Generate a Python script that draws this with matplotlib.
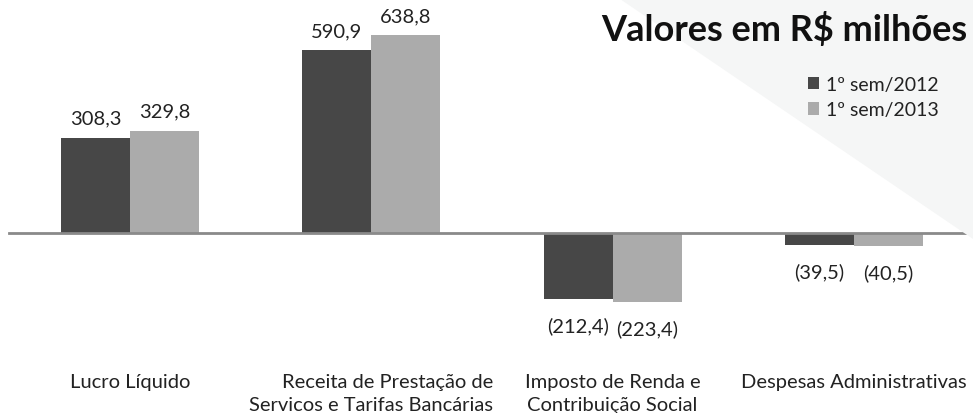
import matplotlib
matplotlib.use("Agg")
import matplotlib.pyplot as plt
from matplotlib.patches import Polygon
import numpy as np

categories = ["Lucro Líquido",
              "Receita de Prestação de\nServicos e Tarifas Bancárias",
              "Imposto de Renda e\nContribuição Social",
              "Despesas Administrativas"]
series_names = ["1º sem/2012", "1º sem/2013"]
values_2012 = [308.3, 590.9, -212.4, -39.5]
values_2013 = [329.8, 638.8, -223.4, -40.5]
colors = ["#474747", "#ababab"]

W, H = 973, 414
fig = plt.figure(figsize=(W/100, H/100), dpi=100)
plt.rcParams['font.family'] = ['Lato', 'DejaVu Sans']

# background triangle
tri = Polygon([(620/W, 1), (1, 1), (1, 1-240/H)], closed=True,
              transform=fig.transFigure, facecolor="#f5f6f6", edgecolor="none", zorder=0)
fig.patches.append(tri)

ax = fig.add_axes([0, 0, 1, 1])
ax.patch.set_alpha(0)
for s in ax.spines.values():
    s.set_visible(False)
ax.set_xticks([]); ax.set_yticks([])

px_per_x = 241.3
x0 = 130
scale = 0.3095
zero_px = 234
ax.set_xlim(-x0/px_per_x, (W-x0)/px_per_x)
ax.set_ylim(-(H-zero_px)/scale, zero_px/scale)

x = np.arange(len(categories))
bw = 69/px_per_x
b1 = ax.bar(x - bw/2, values_2012, bw, color=colors[0], label=series_names[0], zorder=2)
b2 = ax.bar(x + bw/2, values_2013, bw, color=colors[1], label=series_names[1], zorder=2)

ax.axhline(0, xmin=9/W, xmax=1, color="#8a8a8a", lw=2, zorder=3)

def fmt(v):
    s = f"{abs(v):.1f}".replace(".", ",")
    return f"({s})" if v < 0 else s

for bars, vals in ((b1, values_2012), (b2, values_2013)):
    for rect, v in zip(bars, vals):
        cx = rect.get_x() + rect.get_width()/2
        if v >= 0:
            ax.annotate(fmt(v), (cx, v), xytext=(0, 8), textcoords="offset points",
                        ha="center", va="bottom", fontsize=14.5, color="#222222")
        else:
            ax.annotate(fmt(v), (cx, v), xytext=(0, -12.5), textcoords="offset points",
                        ha="center", va="top", fontsize=14.5, color="#222222")

label_y = -(374-zero_px)/scale
for i, c in enumerate(categories):
    ma = "right" if i == 1 else "center"
    ax.text(i, label_y, c, ha="center", va="top", fontsize=14.5, color="#222222",
            multialignment=ma, linespacing=1.4)

fig.text(967/W, 1-30/H, "Valores em R$ milhões", ha="right", va="center",
         fontsize=26, fontweight="bold", color="#111111")

leg = fig.legend(handles=[b1, b2], labels=series_names, loc="upper left",
                 bbox_to_anchor=(798/W, 1-67/H), frameon=False, fontsize=14,
                 handlelength=0.6, handleheight=0.6, handletextpad=0.35, labelspacing=0.45,
                 borderpad=0)
for t in leg.get_texts():
    t.set_color("#222222")

fig.savefig("out.png", dpi=100)
